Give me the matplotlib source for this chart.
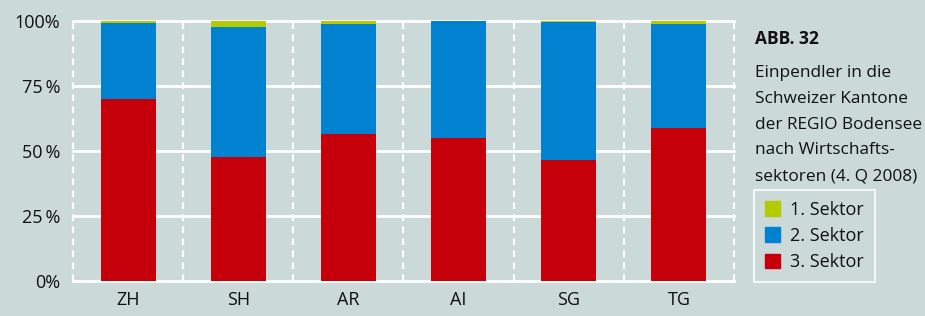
import matplotlib.pyplot as plt
from matplotlib.patches import Patch

plt.rcParams['font.family'] = ['Open Sans', 'DejaVu Sans']

# Data (shares in %)
kantone = ['ZH', 'SH', 'AR', 'AI', 'SG', 'TG']
sektor3 = [70.0, 47.7, 56.5, 55.1, 46.5, 58.8]
sektor2 = [29.3, 50.0, 42.3, 44.9, 53.2, 40.1]
sektor1 = [0.7, 2.3, 1.2, 0.0, 0.3, 1.1]
yticks = [0, 25, 50, 75, 100]
ytick_labels = ['0%', '25\u2009%', '50\u2009%', '75\u2009%', '100%']

bg = '#cbd9d8'
c1, c2, c3 = '#b2cc00', '#0082d0', '#c6000b'
txt = '#111111'

fig = plt.figure(figsize=(9.25, 3.16), dpi=100, facecolor=bg)
ax = fig.add_axes([0.0789, 0.1108, 0.7146, 0.8228])
ax.set_facecolor(bg)

x = range(len(kantone))
ax.bar(x, sektor3, width=0.5, color=c3, zorder=3)
ax.bar(x, sektor2, width=0.5, bottom=sektor3, color=c2, zorder=3)
bottom1 = [a + b for a, b in zip(sektor3, sektor2)]
ax.bar(x, sektor1, width=0.5, bottom=bottom1, color=c1, zorder=3)

ax.set_xlim(-0.5, len(kantone) - 0.5)
ax.set_ylim(0, 100)

# white grid: solid horizontals, dashed verticals between the columns
for y in yticks:
    ax.axhline(y, color='white', lw=2, zorder=1, clip_on=False)
for i in range(len(kantone) + 1):
    ax.axvline(i - 0.5, color='white', lw=1.6, ls=(0, (3, 2.4)), zorder=1, clip_on=False)

for s in ax.spines.values():
    s.set_visible(False)
ax.set_yticks(yticks)
ax.set_yticklabels(ytick_labels, fontsize=13, color=txt)
ax.set_xticks(list(x))
ax.set_xticklabels(kantone, fontsize=13, color=txt)
ax.tick_params(length=0, pad=9)
ax.tick_params(axis='x', pad=7)

fig.text(0.816, 0.875, 'ABB. 32', fontsize=12.5, fontweight='bold', color=txt, va='center')
title_lines = ['Einpendler in die', 'Schweizer Kantone', 'der REGIO Bodensee',
               'nach Wirtschafts-', 'sektoren (4. Q 2008)']
for i, line in enumerate(title_lines):
    fig.text(0.816, 1 - (73 + 25.8 * i) / 316, line, fontsize=12.4, color=txt, va='center')

handles = [Patch(color=c1, label='1. Sektor'),
           Patch(color=c2, label='2. Sektor'),
           Patch(color=c3, label='3. Sektor')]
leg = fig.legend(handles=handles, loc='upper left', bbox_to_anchor=(0.815, 0.399),
                 frameon=True, borderaxespad=0, prop={'size': 13},
                 handlelength=0.85, handleheight=0.85, handletextpad=0.55,
                 labelspacing=0.45, borderpad=0.6, fancybox=False)
for t in leg.get_texts():
    t.set_color(txt)
leg.get_frame().set_facecolor('none')
leg.get_frame().set_edgecolor('white')
leg.get_frame().set_linewidth(1.5)

fig.savefig('out.png', dpi=100, facecolor=bg)
